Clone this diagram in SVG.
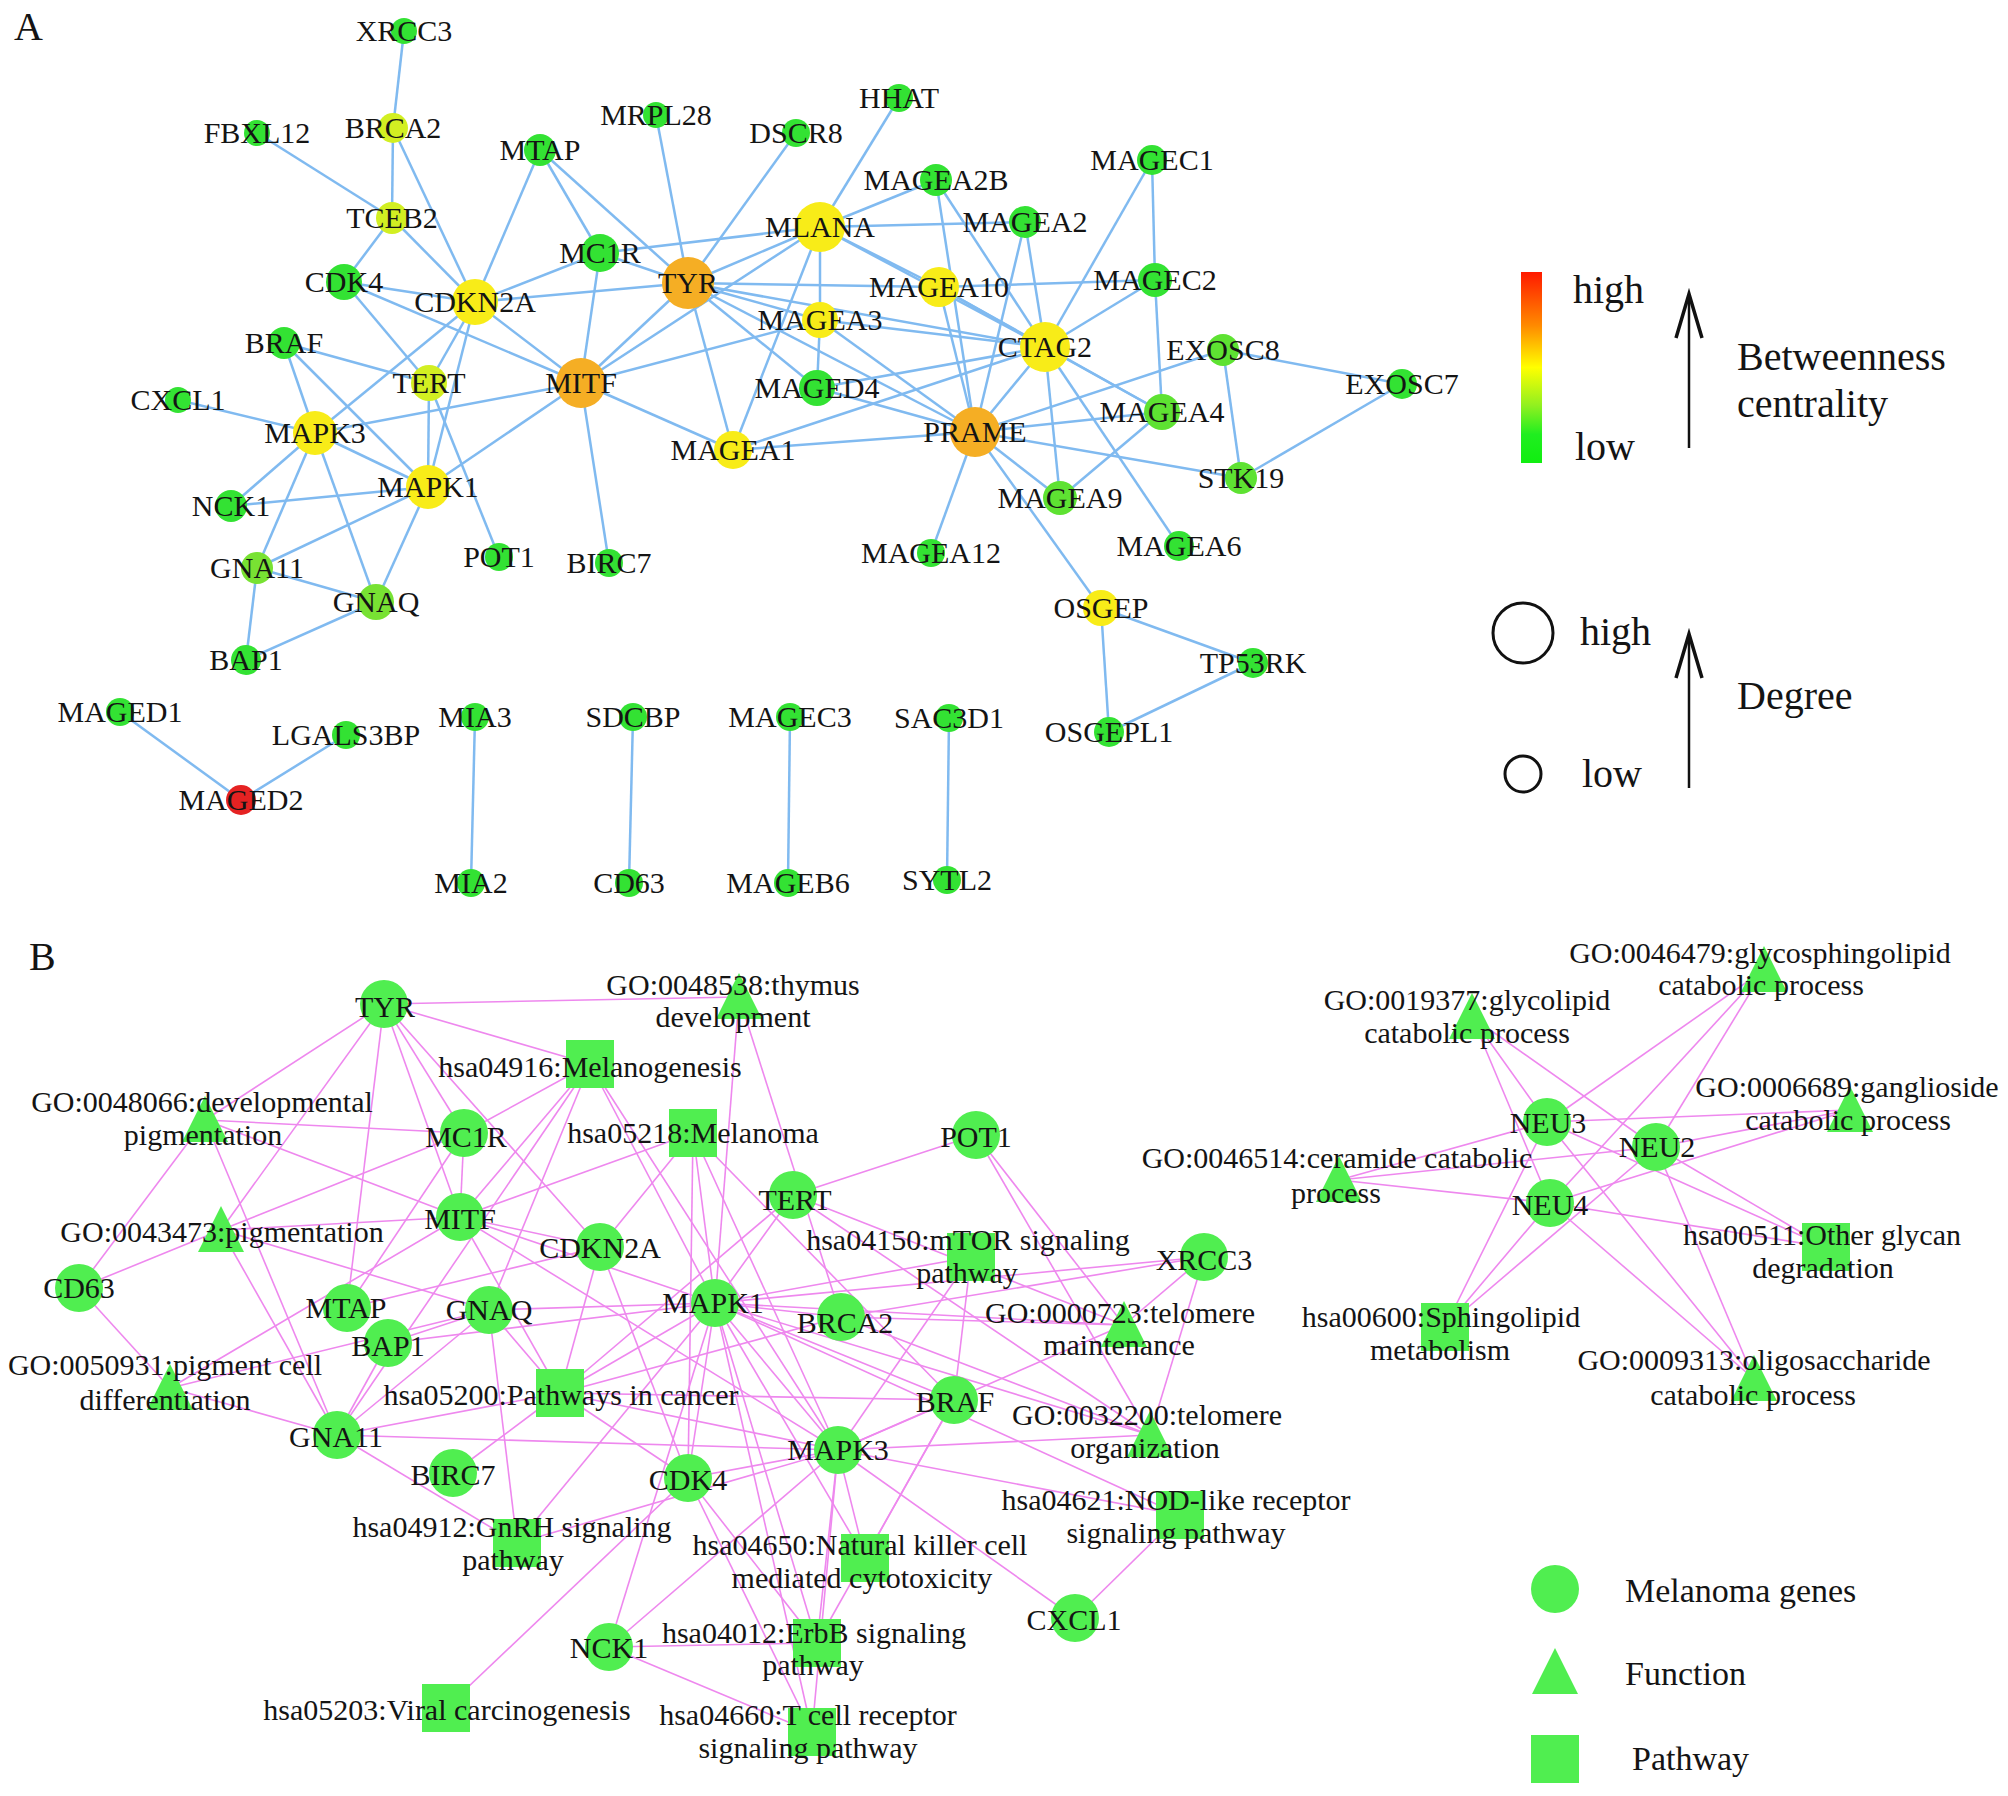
<svg xmlns="http://www.w3.org/2000/svg" xmlns:xlink="http://www.w3.org/1999/xlink" width="2008" height="1796" viewBox="0 0 2008 1796">
<style>
.ea{stroke:#80baf0;stroke-width:2.5;fill:none}
.eb{stroke:#ee88ee;stroke-width:1.6;fill:none}
text{font-family:"Liberation Serif","Times New Roman",serif;fill:#141414}
.l{font-size:30px;text-anchor:middle}
.lg{font-size:40px}
.lb{font-size:34px}
.nb{fill:#50ee50}
.g{fill:#33e233}.yg{fill:#d2ef22}.y{fill:#f8ec18}.o{fill:#f5ae24}.r{fill:#e52222}.g2{fill:#5ee232}.g3{fill:#78e233}
</style>
<defs>
<circle id="c" r="24"/>
<polygon id="t" points="-23,22 23,22 0,-24"/>
<rect id="s" x="-24" y="-24" width="48" height="48"/>
<linearGradient id="bc" x1="0" y1="0" x2="0" y2="1">
<stop offset="0" stop-color="#ff1a00"/>
<stop offset="0.28" stop-color="#ff8a00"/>
<stop offset="0.5" stop-color="#ffff00"/>
<stop offset="0.7" stop-color="#90f020"/>
<stop offset="0.85" stop-color="#20ee20"/>
<stop offset="1" stop-color="#10ee10"/>
</linearGradient>
</defs>
<rect width="2008" height="1796" fill="#ffffff"/>
<text x="14" y="40" class="lg">A</text>
<text x="29" y="970" class="lg">B</text>

<g id="edges-a" class="ea">
<line x1="404" y1="31" x2="393" y2="128"/>
<line x1="257" y1="133" x2="392" y2="218"/>
<line x1="393" y1="128" x2="392" y2="218"/>
<line x1="393" y1="128" x2="475" y2="302"/>
<line x1="392" y1="218" x2="344" y2="282"/>
<line x1="392" y1="218" x2="475" y2="302"/>
<line x1="540" y1="150" x2="475" y2="302"/>
<line x1="540" y1="150" x2="600" y2="253"/>
<line x1="540" y1="150" x2="688" y2="283"/>
<line x1="656" y1="115" x2="688" y2="283"/>
<line x1="796" y1="133" x2="688" y2="283"/>
<line x1="899" y1="98" x2="820" y2="227"/>
<line x1="600" y1="253" x2="475" y2="302"/>
<line x1="600" y1="253" x2="581" y2="383"/>
<line x1="600" y1="253" x2="688" y2="283"/>
<line x1="600" y1="253" x2="820" y2="227"/>
<line x1="344" y1="282" x2="475" y2="302"/>
<line x1="344" y1="282" x2="429" y2="383"/>
<line x1="344" y1="282" x2="581" y2="383"/>
<line x1="475" y1="302" x2="688" y2="283"/>
<line x1="475" y1="302" x2="581" y2="383"/>
<line x1="475" y1="302" x2="429" y2="383"/>
<line x1="475" y1="302" x2="315" y2="433"/>
<line x1="475" y1="302" x2="428" y2="487"/>
<line x1="284" y1="343" x2="429" y2="383"/>
<line x1="284" y1="343" x2="315" y2="433"/>
<line x1="284" y1="343" x2="428" y2="487"/>
<line x1="178" y1="400" x2="315" y2="433"/>
<line x1="315" y1="433" x2="581" y2="383"/>
<line x1="315" y1="433" x2="428" y2="487"/>
<line x1="315" y1="433" x2="231" y2="506"/>
<line x1="315" y1="433" x2="257" y2="568"/>
<line x1="315" y1="433" x2="376" y2="602"/>
<line x1="429" y1="383" x2="499" y2="557"/>
<line x1="429" y1="383" x2="428" y2="487"/>
<line x1="581" y1="383" x2="688" y2="283"/>
<line x1="581" y1="383" x2="820" y2="227"/>
<line x1="581" y1="383" x2="733" y2="450"/>
<line x1="581" y1="383" x2="609" y2="563"/>
<line x1="581" y1="383" x2="428" y2="487"/>
<line x1="581" y1="383" x2="820" y2="320"/>
<line x1="428" y1="487" x2="231" y2="506"/>
<line x1="428" y1="487" x2="257" y2="568"/>
<line x1="428" y1="487" x2="376" y2="602"/>
<line x1="257" y1="568" x2="376" y2="602"/>
<line x1="257" y1="568" x2="246" y2="660"/>
<line x1="376" y1="602" x2="246" y2="660"/>
<line x1="688" y1="283" x2="820" y2="227"/>
<line x1="688" y1="283" x2="820" y2="320"/>
<line x1="688" y1="283" x2="939" y2="287"/>
<line x1="939" y1="287" x2="1155" y2="280"/>
<line x1="688" y1="283" x2="733" y2="450"/>
<line x1="688" y1="283" x2="975" y2="432"/>
<line x1="688" y1="283" x2="1045" y2="347"/>
<line x1="688" y1="283" x2="817" y2="388"/>
<line x1="820" y1="227" x2="936" y2="180"/>
<line x1="820" y1="227" x2="1025" y2="222"/>
<line x1="820" y1="227" x2="820" y2="320"/>
<line x1="820" y1="227" x2="939" y2="287"/>
<line x1="820" y1="227" x2="733" y2="450"/>
<line x1="820" y1="227" x2="1045" y2="347"/>
<line x1="936" y1="180" x2="975" y2="432"/>
<line x1="936" y1="180" x2="1045" y2="347"/>
<line x1="1025" y1="222" x2="1045" y2="347"/>
<line x1="1025" y1="222" x2="975" y2="432"/>
<line x1="1152" y1="160" x2="1045" y2="347"/>
<line x1="1152" y1="160" x2="1155" y2="280"/>
<line x1="1155" y1="280" x2="1045" y2="347"/>
<line x1="1155" y1="280" x2="1162" y2="412"/>
<line x1="939" y1="287" x2="1045" y2="347"/>
<line x1="939" y1="287" x2="975" y2="432"/>
<line x1="939" y1="287" x2="1162" y2="412"/>
<line x1="820" y1="320" x2="1045" y2="347"/>
<line x1="820" y1="320" x2="817" y2="388"/>
<line x1="820" y1="320" x2="975" y2="432"/>
<line x1="1045" y1="347" x2="1162" y2="412"/>
<line x1="1045" y1="347" x2="975" y2="432"/>
<line x1="1045" y1="347" x2="1060" y2="498"/>
<line x1="1045" y1="347" x2="1179" y2="546"/>
<line x1="1045" y1="347" x2="733" y2="450"/>
<line x1="1045" y1="347" x2="817" y2="388"/>
<line x1="1223" y1="350" x2="1402" y2="384"/>
<line x1="1223" y1="350" x2="1241" y2="478"/>
<line x1="1223" y1="350" x2="975" y2="432"/>
<line x1="1402" y1="384" x2="1241" y2="478"/>
<line x1="1162" y1="412" x2="975" y2="432"/>
<line x1="1162" y1="412" x2="1060" y2="498"/>
<line x1="975" y1="432" x2="733" y2="450"/>
<line x1="975" y1="432" x2="931" y2="553"/>
<line x1="975" y1="432" x2="1101" y2="608"/>
<line x1="975" y1="432" x2="1060" y2="498"/>
<line x1="975" y1="432" x2="1241" y2="478"/>
<line x1="975" y1="432" x2="817" y2="388"/>
<line x1="1101" y1="608" x2="1253" y2="663"/>
<line x1="1101" y1="608" x2="1109" y2="732"/>
<line x1="1253" y1="663" x2="1109" y2="732"/>
<line x1="120" y1="712" x2="241" y2="800"/>
<line x1="346" y1="735" x2="241" y2="800"/>
<line x1="475" y1="717" x2="471" y2="883"/>
<line x1="633" y1="717" x2="629" y2="883"/>
<line x1="790" y1="717" x2="788" y2="883"/>
<line x1="949" y1="718" x2="947" y2="880"/>
</g>

<g id="edges-b" class="eb">
<line x1="384" y1="1004" x2="739" y2="997"/>
<line x1="384" y1="1004" x2="590" y2="1064"/>
<line x1="384" y1="1004" x2="205" y2="1120"/>
<line x1="384" y1="1004" x2="221" y2="1230"/>
<line x1="384" y1="1004" x2="347" y2="1308"/>
<line x1="384" y1="1004" x2="464" y2="1133"/>
<line x1="384" y1="1004" x2="460" y2="1217"/>
<line x1="384" y1="1004" x2="600" y2="1247"/>
<line x1="464" y1="1133" x2="590" y2="1064"/>
<line x1="464" y1="1133" x2="460" y2="1217"/>
<line x1="464" y1="1133" x2="221" y2="1230"/>
<line x1="464" y1="1133" x2="347" y2="1308"/>
<line x1="464" y1="1133" x2="205" y2="1120"/>
<line x1="460" y1="1217" x2="590" y2="1064"/>
<line x1="460" y1="1217" x2="693" y2="1133"/>
<line x1="460" y1="1217" x2="560" y2="1393"/>
<line x1="460" y1="1217" x2="205" y2="1120"/>
<line x1="460" y1="1217" x2="221" y2="1230"/>
<line x1="460" y1="1217" x2="170" y2="1388"/>
<line x1="460" y1="1217" x2="715" y2="1303"/>
<line x1="460" y1="1217" x2="838" y2="1450"/>
<line x1="460" y1="1217" x2="600" y2="1247"/>
<line x1="600" y1="1247" x2="693" y2="1133"/>
<line x1="600" y1="1247" x2="560" y2="1393"/>
<line x1="600" y1="1247" x2="688" y2="1478"/>
<line x1="600" y1="1247" x2="347" y2="1308"/>
<line x1="590" y1="1064" x2="489" y2="1310"/>
<line x1="590" y1="1064" x2="337" y2="1435"/>
<line x1="590" y1="1064" x2="715" y2="1303"/>
<line x1="590" y1="1064" x2="838" y2="1450"/>
<line x1="693" y1="1133" x2="688" y2="1478"/>
<line x1="693" y1="1133" x2="954" y2="1400"/>
<line x1="693" y1="1133" x2="715" y2="1303"/>
<line x1="693" y1="1133" x2="838" y2="1450"/>
<line x1="560" y1="1393" x2="688" y2="1478"/>
<line x1="560" y1="1393" x2="954" y2="1400"/>
<line x1="560" y1="1393" x2="715" y2="1303"/>
<line x1="560" y1="1393" x2="838" y2="1450"/>
<line x1="560" y1="1393" x2="489" y2="1310"/>
<line x1="560" y1="1393" x2="337" y2="1435"/>
<line x1="560" y1="1393" x2="453" y2="1473"/>
<line x1="560" y1="1393" x2="841" y2="1317"/>
<line x1="560" y1="1393" x2="793" y2="1195"/>
<line x1="489" y1="1310" x2="517" y2="1543"/>
<line x1="489" y1="1310" x2="337" y2="1435"/>
<line x1="489" y1="1310" x2="715" y2="1303"/>
<line x1="489" y1="1310" x2="388" y2="1343"/>
<line x1="489" y1="1310" x2="170" y2="1388"/>
<line x1="489" y1="1310" x2="221" y2="1230"/>
<line x1="337" y1="1435" x2="517" y2="1543"/>
<line x1="337" y1="1435" x2="388" y2="1343"/>
<line x1="337" y1="1435" x2="838" y2="1450"/>
<line x1="337" y1="1435" x2="170" y2="1388"/>
<line x1="337" y1="1435" x2="221" y2="1230"/>
<line x1="337" y1="1435" x2="205" y2="1120"/>
<line x1="388" y1="1343" x2="715" y2="1303"/>
<line x1="715" y1="1303" x2="971" y2="1257"/>
<line x1="715" y1="1303" x2="817" y2="1643"/>
<line x1="715" y1="1303" x2="865" y2="1558"/>
<line x1="715" y1="1303" x2="812" y2="1732"/>
<line x1="715" y1="1303" x2="1180" y2="1515"/>
<line x1="715" y1="1303" x2="517" y2="1543"/>
<line x1="715" y1="1303" x2="1124" y2="1325"/>
<line x1="715" y1="1303" x2="1150" y2="1435"/>
<line x1="715" y1="1303" x2="739" y2="997"/>
<line x1="715" y1="1303" x2="838" y2="1450"/>
<line x1="715" y1="1303" x2="954" y2="1400"/>
<line x1="715" y1="1303" x2="688" y2="1478"/>
<line x1="715" y1="1303" x2="609" y2="1647"/>
<line x1="715" y1="1303" x2="793" y2="1195"/>
<line x1="715" y1="1303" x2="841" y2="1317"/>
<line x1="715" y1="1303" x2="1204" y2="1257"/>
<line x1="838" y1="1450" x2="971" y2="1257"/>
<line x1="838" y1="1450" x2="817" y2="1643"/>
<line x1="838" y1="1450" x2="865" y2="1558"/>
<line x1="838" y1="1450" x2="812" y2="1732"/>
<line x1="838" y1="1450" x2="1180" y2="1515"/>
<line x1="838" y1="1450" x2="517" y2="1543"/>
<line x1="838" y1="1450" x2="1124" y2="1325"/>
<line x1="838" y1="1450" x2="1150" y2="1435"/>
<line x1="838" y1="1450" x2="954" y2="1400"/>
<line x1="838" y1="1450" x2="688" y2="1478"/>
<line x1="838" y1="1450" x2="609" y2="1647"/>
<line x1="838" y1="1450" x2="1075" y2="1618"/>
<line x1="954" y1="1400" x2="971" y2="1257"/>
<line x1="954" y1="1400" x2="817" y2="1643"/>
<line x1="954" y1="1400" x2="865" y2="1558"/>
<line x1="793" y1="1195" x2="1124" y2="1325"/>
<line x1="793" y1="1195" x2="1150" y2="1435"/>
<line x1="793" y1="1195" x2="976" y2="1135"/>
<line x1="976" y1="1135" x2="1124" y2="1325"/>
<line x1="976" y1="1135" x2="1150" y2="1435"/>
<line x1="1204" y1="1257" x2="1124" y2="1325"/>
<line x1="1204" y1="1257" x2="1150" y2="1435"/>
<line x1="1204" y1="1257" x2="841" y2="1317"/>
<line x1="841" y1="1317" x2="1124" y2="1325"/>
<line x1="841" y1="1317" x2="1150" y2="1435"/>
<line x1="841" y1="1317" x2="739" y2="997"/>
<line x1="688" y1="1478" x2="446" y2="1708"/>
<line x1="688" y1="1478" x2="817" y2="1643"/>
<line x1="688" y1="1478" x2="812" y2="1732"/>
<line x1="609" y1="1647" x2="817" y2="1643"/>
<line x1="609" y1="1647" x2="812" y2="1732"/>
<line x1="1075" y1="1618" x2="1180" y2="1515"/>
<line x1="79" y1="1288" x2="205" y2="1120"/>
<line x1="79" y1="1288" x2="221" y2="1230"/>
<line x1="79" y1="1288" x2="170" y2="1388"/>
<line x1="1547" y1="1122" x2="1764" y2="970"/>
<line x1="1547" y1="1122" x2="1472" y2="1017"/>
<line x1="1547" y1="1122" x2="1850" y2="1110"/>
<line x1="1547" y1="1122" x2="1339" y2="1180"/>
<line x1="1547" y1="1122" x2="1826" y2="1247"/>
<line x1="1547" y1="1122" x2="1445" y2="1327"/>
<line x1="1547" y1="1122" x2="1754" y2="1379"/>
<line x1="1656" y1="1147" x2="1764" y2="970"/>
<line x1="1656" y1="1147" x2="1472" y2="1017"/>
<line x1="1656" y1="1147" x2="1850" y2="1110"/>
<line x1="1656" y1="1147" x2="1339" y2="1180"/>
<line x1="1656" y1="1147" x2="1826" y2="1247"/>
<line x1="1656" y1="1147" x2="1445" y2="1327"/>
<line x1="1656" y1="1147" x2="1754" y2="1379"/>
<line x1="1550" y1="1203" x2="1764" y2="970"/>
<line x1="1550" y1="1203" x2="1472" y2="1017"/>
<line x1="1550" y1="1203" x2="1850" y2="1110"/>
<line x1="1550" y1="1203" x2="1339" y2="1180"/>
<line x1="1550" y1="1203" x2="1826" y2="1247"/>
<line x1="1550" y1="1203" x2="1445" y2="1327"/>
<line x1="1550" y1="1203" x2="1754" y2="1379"/>
</g>

<g id="nodes-a">
<g id="a-XRCC3"><circle cx="404" cy="31" r="13" class="g"/><text x="404" y="41" class="l">XRCC3</text></g>
<g id="a-FBXL12"><circle cx="257" cy="133" r="13" class="g"/><text x="257" y="143" class="l">FBXL12</text></g>
<g id="a-BRCA2"><circle cx="393" cy="128" r="15" class="yg"/><text x="393" y="138" class="l">BRCA2</text></g>
<g id="a-TCEB2"><circle cx="392" cy="218" r="16" class="yg"/><text x="392" y="228" class="l">TCEB2</text></g>
<g id="a-MTAP"><circle cx="540" cy="150" r="16" class="g"/><text x="540" y="160" class="l">MTAP</text></g>
<g id="a-MRPL28"><circle cx="656" cy="115" r="13" class="g"/><text x="656" y="125" class="l">MRPL28</text></g>
<g id="a-DSCR8"><circle cx="796" cy="133" r="14" class="g"/><text x="796" y="143" class="l">DSCR8</text></g>
<g id="a-HHAT"><circle cx="899" cy="98" r="14" class="g"/><text x="899" y="108" class="l">HHAT</text></g>
<g id="a-MAGEA2B"><circle cx="936" cy="180" r="16" class="g"/><text x="936" y="190" class="l">MAGEA2B</text></g>
<g id="a-MLANA"><circle cx="820" cy="227" r="25" class="y"/><text x="820" y="237" class="l">MLANA</text></g>
<g id="a-MAGEA2"><circle cx="1025" cy="222" r="16" class="g"/><text x="1025" y="232" class="l">MAGEA2</text></g>
<g id="a-MAGEC1"><circle cx="1152" cy="160" r="15" class="g"/><text x="1152" y="170" class="l">MAGEC1</text></g>
<g id="a-MC1R"><circle cx="600" cy="253" r="19" class="g"/><text x="600" y="263" class="l">MC1R</text></g>
<g id="a-TYR"><circle cx="688" cy="283" r="26" class="o"/><text x="688" y="293" class="l">TYR</text></g>
<g id="a-CDK4"><circle cx="344" cy="282" r="18" class="g"/><text x="344" y="292" class="l">CDK4</text></g>
<g id="a-CDKN2A"><circle cx="475" cy="302" r="23" class="y"/><text x="475" y="312" class="l">CDKN2A</text></g>
<g id="a-MAGEA10"><circle cx="939" cy="287" r="20" class="y"/><text x="939" y="297" class="l">MAGEA10</text></g>
<g id="a-MAGEC2"><circle cx="1155" cy="280" r="17" class="g"/><text x="1155" y="290" class="l">MAGEC2</text></g>
<g id="a-MAGEA3"><circle cx="820" cy="320" r="18" class="y"/><text x="820" y="330" class="l">MAGEA3</text></g>
<g id="a-CTAG2"><circle cx="1045" cy="347" r="25" class="y"/><text x="1045" y="357" class="l">CTAG2</text></g>
<g id="a-EXOSC8"><circle cx="1223" cy="350" r="16" class="g2"/><text x="1223" y="360" class="l">EXOSC8</text></g>
<g id="a-EXOSC7"><circle cx="1402" cy="384" r="15" class="g"/><text x="1402" y="394" class="l">EXOSC7</text></g>
<g id="a-BRAF"><circle cx="284" cy="343" r="16" class="g"/><text x="284" y="353" class="l">BRAF</text></g>
<g id="a-TERT"><circle cx="429" cy="383" r="18" class="yg"/><text x="429" y="393" class="l">TERT</text></g>
<g id="a-MITF"><circle cx="581" cy="383" r="25" class="o"/><text x="581" y="393" class="l">MITF</text></g>
<g id="a-MAGED4"><circle cx="817" cy="388" r="18" class="g"/><text x="817" y="398" class="l">MAGED4</text></g>
<g id="a-MAGEA4"><circle cx="1162" cy="412" r="18" class="g2"/><text x="1162" y="422" class="l">MAGEA4</text></g>
<g id="a-CXCL1"><circle cx="178" cy="400" r="13" class="g"/><text x="178" y="410" class="l">CXCL1</text></g>
<g id="a-MAPK3"><circle cx="315" cy="433" r="22" class="y"/><text x="315" y="443" class="l">MAPK3</text></g>
<g id="a-MAGEA1"><circle cx="733" cy="450" r="19" class="y"/><text x="733" y="460" class="l">MAGEA1</text></g>
<g id="a-PRAME"><circle cx="975" cy="432" r="25" class="o"/><text x="975" y="442" class="l">PRAME</text></g>
<g id="a-STK19"><circle cx="1241" cy="478" r="16" class="g2"/><text x="1241" y="488" class="l">STK19</text></g>
<g id="a-MAPK1"><circle cx="428" cy="487" r="22" class="y"/><text x="428" y="497" class="l">MAPK1</text></g>
<g id="a-NCK1"><circle cx="231" cy="506" r="16" class="g"/><text x="231" y="516" class="l">NCK1</text></g>
<g id="a-MAGEA9"><circle cx="1060" cy="498" r="17" class="g2"/><text x="1060" y="508" class="l">MAGEA9</text></g>
<g id="a-POT1"><circle cx="499" cy="557" r="14" class="g"/><text x="499" y="567" class="l">POT1</text></g>
<g id="a-BIRC7"><circle cx="609" cy="563" r="14" class="g"/><text x="609" y="573" class="l">BIRC7</text></g>
<g id="a-MAGEA12"><circle cx="931" cy="553" r="14" class="g"/><text x="931" y="563" class="l">MAGEA12</text></g>
<g id="a-MAGEA6"><circle cx="1179" cy="546" r="15" class="g"/><text x="1179" y="556" class="l">MAGEA6</text></g>
<g id="a-GNA11"><circle cx="257" cy="568" r="16" class="g3"/><text x="257" y="578" class="l">GNA11</text></g>
<g id="a-GNAQ"><circle cx="376" cy="602" r="18" class="g3"/><text x="376" y="612" class="l">GNAQ</text></g>
<g id="a-OSGEP"><circle cx="1101" cy="608" r="18" class="y"/><text x="1101" y="618" class="l">OSGEP</text></g>
<g id="a-BAP1"><circle cx="246" cy="660" r="15" class="g"/><text x="246" y="670" class="l">BAP1</text></g>
<g id="a-TP53RK"><circle cx="1253" cy="663" r="15" class="g"/><text x="1253" y="673" class="l">TP53RK</text></g>
<g id="a-MAGED1"><circle cx="120" cy="712" r="14" class="g"/><text x="120" y="722" class="l">MAGED1</text></g>
<g id="a-LGALS3BP"><circle cx="346" cy="735" r="14" class="g"/><text x="346" y="745" class="l">LGALS3BP</text></g>
<g id="a-MIA3"><circle cx="475" cy="717" r="14" class="g"/><text x="475" y="727" class="l">MIA3</text></g>
<g id="a-SDCBP"><circle cx="633" cy="717" r="14" class="g"/><text x="633" y="727" class="l">SDCBP</text></g>
<g id="a-MAGEC3"><circle cx="790" cy="717" r="14" class="g"/><text x="790" y="727" class="l">MAGEC3</text></g>
<g id="a-SAC3D1"><circle cx="949" cy="718" r="14" class="g"/><text x="949" y="728" class="l">SAC3D1</text></g>
<g id="a-OSGEPL1"><circle cx="1109" cy="732" r="15" class="g"/><text x="1109" y="742" class="l">OSGEPL1</text></g>
<g id="a-MAGED2"><circle cx="241" cy="800" r="15" class="r"/><text x="241" y="810" class="l">MAGED2</text></g>
<g id="a-MIA2"><circle cx="471" cy="883" r="14" class="g"/><text x="471" y="893" class="l">MIA2</text></g>
<g id="a-CD63"><circle cx="629" cy="883" r="14" class="g"/><text x="629" y="893" class="l">CD63</text></g>
<g id="a-MAGEB6"><circle cx="788" cy="883" r="14" class="g"/><text x="788" y="893" class="l">MAGEB6</text></g>
<g id="a-SYTL2"><circle cx="947" cy="880" r="14" class="g"/><text x="947" y="890" class="l">SYTL2</text></g>
</g>

<g id="legend-a">
<rect x="1521" y="272" width="21" height="191" fill="url(#bc)"/>
<text x="1573" y="303" class="lg">high</text>
<text x="1575" y="460" class="lg">low</text>
<line x1="1689" y1="448" x2="1689" y2="297" stroke="#111" stroke-width="2.5"/>
<path d="M1676,338 L1689,294 L1702,338" fill="none" stroke="#111" stroke-width="3.5" stroke-linejoin="miter"/>
<text x="1737" y="370" class="lg">Betweenness</text>
<text x="1737" y="417" class="lg">centrality</text>
<circle cx="1523" cy="633" r="30" fill="none" stroke="#111" stroke-width="3"/>
<text x="1580" y="645" class="lg">high</text>
<circle cx="1523" cy="774" r="18" fill="none" stroke="#111" stroke-width="3"/>
<text x="1582" y="787" class="lg">low</text>
<line x1="1689" y1="788" x2="1689" y2="637" stroke="#111" stroke-width="2.5"/>
<path d="M1676,678 L1689,634 L1702,678" fill="none" stroke="#111" stroke-width="3.5" stroke-linejoin="miter"/>
<text x="1737" y="709" class="lg">Degree</text>
</g>

<g id="nodes-b" class="nb">
<g id="b-TYR"><use href="#c" x="384" y="1004"/><text x="385" y="1017" class="l">TYR</text></g>
<g id="b-MC1R"><use href="#c" x="464" y="1133"/><text x="466" y="1147" class="l">MC1R</text></g>
<g id="b-MITF"><use href="#c" x="460" y="1217"/><text x="460" y="1229" class="l">MITF</text></g>
<g id="b-CDKN2A"><use href="#c" x="600" y="1247"/><text x="600" y="1258" class="l">CDKN2A</text></g>
<g id="b-CD63"><use href="#c" x="79" y="1288"/><text x="79" y="1298" class="l">CD63</text></g>
<g id="b-MTAP"><use href="#c" x="347" y="1308"/><text x="346" y="1318" class="l">MTAP</text></g>
<g id="b-GNAQ"><use href="#c" x="489" y="1310"/><text x="489" y="1320" class="l">GNAQ</text></g>
<g id="b-BAP1"><use href="#c" x="388" y="1343"/><text x="388" y="1356" class="l">BAP1</text></g>
<g id="b-POT1"><use href="#c" x="976" y="1135"/><text x="976" y="1147" class="l">POT1</text></g>
<g id="b-TERT"><use href="#c" x="793" y="1195"/><text x="795" y="1210" class="l">TERT</text></g>
<g id="b-XRCC3"><use href="#c" x="1204" y="1257"/><text x="1204" y="1270" class="l">XRCC3</text></g>
<g id="b-MAPK1"><use href="#c" x="715" y="1303"/><text x="713" y="1313" class="l">MAPK1</text></g>
<g id="b-BRCA2"><use href="#c" x="841" y="1317"/><text x="845" y="1333" class="l">BRCA2</text></g>
<g id="b-GNA11"><use href="#c" x="337" y="1435"/><text x="336" y="1447" class="l">GNA11</text></g>
<g id="b-BIRC7"><use href="#c" x="453" y="1473"/><text x="453" y="1485" class="l">BIRC7</text></g>
<g id="b-CDK4"><use href="#c" x="688" y="1478"/><text x="688" y="1490" class="l">CDK4</text></g>
<g id="b-MAPK3"><use href="#c" x="838" y="1450"/><text x="838" y="1460" class="l">MAPK3</text></g>
<g id="b-BRAF"><use href="#c" x="954" y="1400"/><text x="955" y="1412" class="l">BRAF</text></g>
<g id="b-CXCL1"><use href="#c" x="1075" y="1618"/><text x="1074" y="1630" class="l">CXCL1</text></g>
<g id="b-NCK1"><use href="#c" x="609" y="1647"/><text x="609" y="1658" class="l">NCK1</text></g>
<g id="b-NEU3"><use href="#c" x="1547" y="1122"/><text x="1548" y="1133" class="l">NEU3</text></g>
<g id="b-NEU2"><use href="#c" x="1656" y="1147"/><text x="1657" y="1157" class="l">NEU2</text></g>
<g id="b-NEU4"><use href="#c" x="1550" y="1203"/><text x="1550" y="1215" class="l">NEU4</text></g>

<g id="b-hsa04916"><use href="#s" x="590" y="1064"/><text x="590" y="1077" class="l">hsa04916:Melanogenesis</text></g>
<g id="b-hsa05218"><use href="#s" x="693" y="1133"/><text x="693" y="1143" class="l">hsa05218:Melanoma</text></g>
<g id="b-hsa05200"><use href="#s" x="560" y="1393"/><text x="561" y="1405" class="l">hsa05200:Pathways in cancer</text></g>
<g id="b-hsa05203"><use href="#s" x="446" y="1708"/><text x="447" y="1720" class="l">hsa05203:Viral carcinogenesis</text></g>
<g id="b-hsa04150"><use href="#s" x="971" y="1257"/><text x="968" y="1250" class="l">hsa04150:mTOR signaling</text><text x="967" y="1283" class="l">pathway</text></g>
<g id="b-hsa04912"><use href="#s" x="517" y="1543"/><text x="512" y="1537" class="l">hsa04912:GnRH signaling</text><text x="513" y="1570" class="l">pathway</text></g>
<g id="b-hsa04621"><use href="#s" x="1180" y="1515"/><text x="1176" y="1510" class="l">hsa04621:NOD-like receptor</text><text x="1176" y="1543" class="l">signaling pathway</text></g>
<g id="b-hsa04650"><use href="#s" x="865" y="1558"/><text x="860" y="1555" class="l">hsa04650:Natural killer cell</text><text x="862" y="1588" class="l">mediated cytotoxicity</text></g>
<g id="b-hsa04012"><use href="#s" x="817" y="1643"/><text x="814" y="1643" class="l">hsa04012:ErbB signaling</text><text x="813" y="1675" class="l">pathway</text></g>
<g id="b-hsa04660"><use href="#s" x="812" y="1732"/><text x="808" y="1725" class="l">hsa04660:T cell receptor</text><text x="808" y="1758" class="l">signaling pathway</text></g>
<g id="b-hsa00511"><use href="#s" x="1826" y="1247"/><text x="1822" y="1245" class="l">hsa00511:Other glycan</text><text x="1823" y="1278" class="l">degradation</text></g>
<g id="b-hsa00600"><use href="#s" x="1445" y="1327"/><text x="1441" y="1327" class="l">hsa00600:Sphingolipid</text><text x="1440" y="1360" class="l">metabolism</text></g>

<g id="b-GO0048538"><use href="#t" x="739" y="997"/><text x="733" y="995" class="l">GO:0048538:thymus</text><text x="733" y="1027" class="l">development</text></g>
<g id="b-GO0048066"><use href="#t" x="205" y="1120"/><text x="202" y="1112" class="l">GO:0048066:developmental</text><text x="203" y="1145" class="l">pigmentation</text></g>
<g id="b-GO0043473"><use href="#t" x="221" y="1230"/><text x="222" y="1242" class="l">GO:0043473:pigmentation</text></g>
<g id="b-GO0050931"><use href="#t" x="170" y="1388"/><text x="165" y="1375" class="l">GO:0050931:pigment cell</text><text x="165" y="1410" class="l">differentiation</text></g>
<g id="b-GO0000723"><use href="#t" x="1124" y="1325"/><text x="1120" y="1323" class="l">GO:0000723:telomere</text><text x="1119" y="1355" class="l">maintenance</text></g>
<g id="b-GO0032200"><use href="#t" x="1150" y="1435"/><text x="1147" y="1425" class="l">GO:0032200:telomere</text><text x="1145" y="1458" class="l">organization</text></g>
<g id="b-GO0046514"><use href="#t" x="1339" y="1180"/><text x="1337" y="1168" class="l">GO:0046514:ceramide catabolic</text><text x="1336" y="1203" class="l">process</text></g>
<g id="b-GO0046479"><use href="#t" x="1764" y="970"/><text x="1760" y="963" class="l">GO:0046479:glycosphingolipid</text><text x="1761" y="995" class="l">catabolic process</text></g>
<g id="b-GO0019377"><use href="#t" x="1472" y="1017"/><text x="1467" y="1010" class="l">GO:0019377:glycolipid</text><text x="1467" y="1043" class="l">catabolic process</text></g>
<g id="b-GO0006689"><use href="#t" x="1850" y="1110"/><text x="1847" y="1097" class="l">GO:0006689:ganglioside</text><text x="1848" y="1130" class="l">catabolic process</text></g>
<g id="b-GO0009313"><use href="#t" x="1754" y="1379"/><text x="1754" y="1370" class="l">GO:0009313:oligosaccharide</text><text x="1753" y="1405" class="l">catabolic process</text></g>
</g>

<g id="legend-b">
<use href="#c" x="1555" y="1589" class="nb"/>
<text x="1625" y="1602" class="lb">Melanoma genes</text>
<use href="#t" x="1555" y="1672" class="nb"/>
<text x="1625" y="1685" class="lb">Function</text>
<use href="#s" x="1555" y="1759" class="nb"/>
<text x="1632" y="1770" class="lb">Pathway</text>
</g>
</svg>
